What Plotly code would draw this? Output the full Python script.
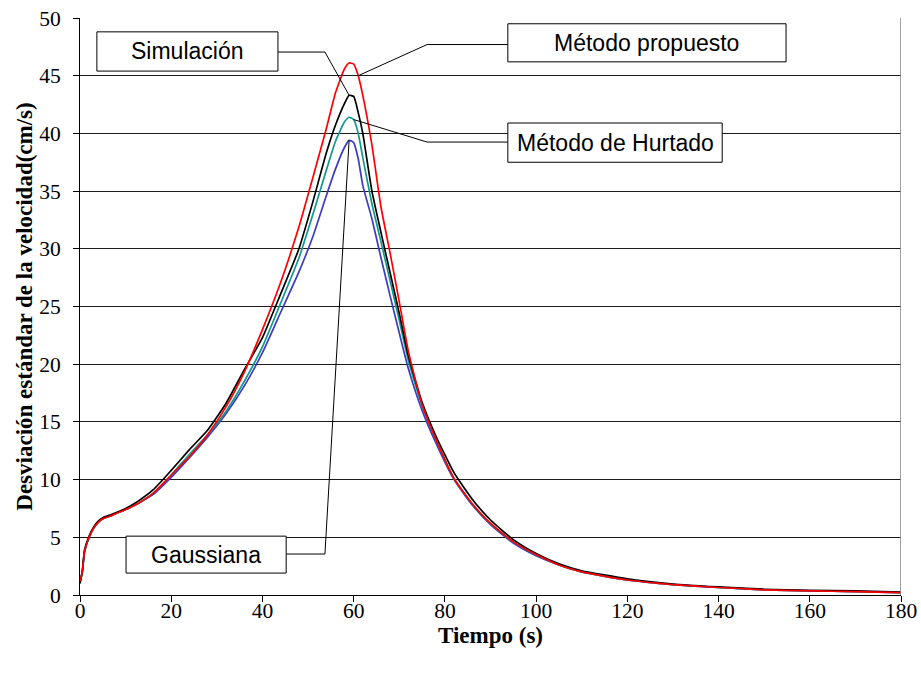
import plotly.graph_objects as go

# Time axis (s)
tiempo = [0, 0.5, 1, 2, 3, 4, 5, 7, 10, 13, 16, 20, 24, 28, 32, 36, 40, 44, 48, 51,
          54, 56, 58, 59, 60, 61, 62, 64, 66, 68, 70, 72, 75, 78, 82, 86, 90, 95,
          100, 105, 110, 120, 130, 140, 150, 160, 170, 180]

# Standard deviation of velocity (cm/s) for each method
simulacion = [1.0, 2.0, 3.9, 5.1, 5.9, 6.4, 6.7, 7.0, 7.5, 8.2, 9.1, 10.8, 12.6, 14.3,
              16.6, 19.5, 22.3, 26.1, 30.0, 34.0, 38.3, 40.7, 42.6, 43.3, 43.2, 41.8,
              40.0, 35.0, 31.4, 27.9, 24.4, 20.7, 16.7, 13.8, 10.6, 8.3, 6.5, 4.8,
              3.6, 2.7, 2.1, 1.4, 0.95, 0.7, 0.5, 0.4, 0.35, 0.25]
propuesto = [1.2, 2.0, 3.8, 5.0, 5.8, 6.3, 6.6, 6.9, 7.4, 8.0, 8.8, 10.4, 12.0, 13.9,
             16.3, 19.3, 23.0, 27.1, 31.9, 36.1, 40.4, 43.5, 45.6, 46.1, 46.0, 45.0,
             43.3, 39.0, 33.6, 29.6, 25.4, 21.1, 16.5, 13.5, 10.1, 7.9, 6.2, 4.6,
             3.5, 2.6, 2.0, 1.3, 0.9, 0.65, 0.45, 0.35, 0.3, 0.2]
hurtado = [1.1, 2.0, 3.8, 5.0, 5.8, 6.3, 6.6, 6.9, 7.4, 8.0, 8.8, 10.4, 12.2, 13.9,
           15.9, 18.5, 21.5, 25.3, 29.2, 32.9, 36.8, 39.3, 41.0, 41.4, 41.2, 40.0,
           37.9, 33.9, 30.6, 27.2, 23.8, 20.3, 16.4, 13.5, 10.1, 7.9, 6.2, 4.6,
           3.5, 2.6, 2.0, 1.3, 0.9, 0.65, 0.45, 0.35, 0.3, 0.2]
gaussiana = [1.1, 2.0, 3.7, 5.0, 5.8, 6.3, 6.6, 6.9, 7.4, 8.0, 8.7, 10.2, 11.9, 13.7,
             15.7, 18.1, 21.0, 24.5, 28.0, 31.0, 34.6, 36.9, 38.8, 39.4, 39.2, 37.8,
             35.5, 32.6, 29.2, 25.9, 22.7, 19.6, 16.0, 13.2, 10.0, 7.8, 6.1, 4.5,
             3.4, 2.6, 2.0, 1.3, 0.9, 0.65, 0.45, 0.35, 0.3, 0.2]

x_ticks = [0, 20, 40, 60, 80, 100, 120, 140, 160, 180]
y_ticks = [0, 5, 10, 15, 20, 25, 30, 35, 40, 45, 50]

series = [
    ("Gaussiana", gaussiana, "#3c3cc0"),
    ("Método de Hurtado", hurtado, "#109890"),
    ("Simulación", simulacion, "#000000"),
    ("Método propuesto", propuesto, "#ff0000"),
]

fig = go.Figure()
for name, vals, color in series:
    fig.add_trace(go.Scatter(x=tiempo, y=vals, mode="lines", name=name,
                             line=dict(color=color, width=1.7, shape="spline", smoothing=0.5),
                             showlegend=False, hoverinfo="x+y+name"))

def peak(vals):
    i = max(range(len(vals)), key=lambda k: vals[k])
    return tiempo[i], vals[i]

# Callout boxes: (label, box x0, x1, y0, y1, leader start/elbow x, leader y, target point)
p_sim = peak(simulacion)
p_gau = peak(gaussiana)
i61 = tiempo.index(61)
i60 = tiempo.index(60)
callouts = [
    ("Simulación", 3.7, 43.4, 45.4, 48.8, (43.4, 53.7), 47.05, p_sim),
    ("Método propuesto", 93.8, 154.8, 46.2, 49.5, (93.8, 76.1), 47.7, (tiempo[i61], propuesto[i61])),
    ("Método de Hurtado", 93.8, 140.8, 37.5, 40.9, (93.8, 76.1), 39.25, (tiempo[i60], hurtado[i60])),
    ("Gaussiana", 10.1, 45.2, 1.9, 5.1, (45.2, 53.7), 3.55, p_gau),
]

shapes = []
annotations = []
for label, x0, x1, y0, y1, (xs, xe), ye, (tx, ty) in callouts:
    shapes.append(dict(type="path", xref="x", yref="y",
                       path=f"M {xs},{ye} L {xe},{ye} L {tx},{ty}",
                       line=dict(color="black", width=1), layer="above"))
    shapes.append(dict(type="rect", xref="x", yref="y", x0=x0, x1=x1, y0=y0, y1=y1,
                       line=dict(color="black", width=1), fillcolor="white", layer="above"))
    annotations.append(dict(x=(x0 + x1) / 2, y=(y0 + y1) / 2, xref="x", yref="y",
                            text=label, showarrow=False,
                            font=dict(family="Liberation Sans, Arial", size=23, color="black")))

# right frame edge
shapes.append(dict(type="line", xref="x", yref="y", x0=180, x1=180, y0=0, y1=50,
                   line=dict(color="#808080", width=1.5), layer="above"))

fig.update_layout(
    width=921, height=677,
    margin=dict(l=80, r=20, t=18, b=82),
    paper_bgcolor="white", plot_bgcolor="white",
    shapes=shapes, annotations=annotations,
    font=dict(family="Liberation Serif, Times New Roman", color="black"),
    xaxis=dict(range=[0, 180], tickvals=x_ticks, ticks="outside", ticklen=6,
               tickcolor="black", showline=True, linecolor="black", linewidth=1,
               showgrid=False, zeroline=False, automargin=False,
               ticklabelstandoff=-10,
               tickfont=dict(family="Liberation Serif", size=21.5),
               title=dict(text="<b>Tiempo (s)</b>", standoff=0,
                          font=dict(family="Liberation Serif", size=23))),
    yaxis=dict(range=[0, 50], tickvals=y_ticks, ticks="outside", ticklen=6,
               tickcolor="black", showline=True, linecolor="black", linewidth=1,
               showgrid=True, gridcolor="#1a1a1a", gridwidth=1, zeroline=False,
               automargin=False, ticklabelstandoff=8,
               tickfont=dict(family="Liberation Serif", size=21.5),
               title=dict(text="<b>Desviación estándar de la velocidad(cm/s)</b>", standoff=0,
                          font=dict(family="Liberation Serif", size=23))),
)

fig.write_html("out.html")
